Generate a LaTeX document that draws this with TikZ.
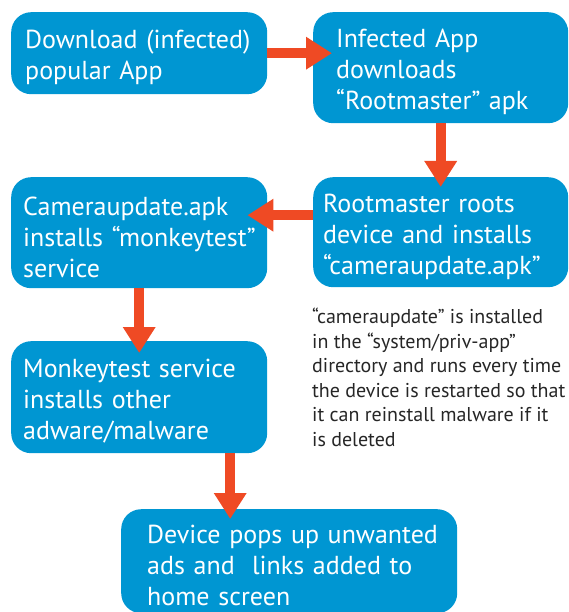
\documentclass[tikz,border=0pt]{standalone}
\usepackage{fontspec}
\setmainfont{PT Sans}
\usetikzlibrary{calc}
\usetikzlibrary{arrows.meta}

\definecolor{boxblue}{RGB}{0,150,210}
\definecolor{arrowred}{RGB}{239,74,36}
\newcommand{\oneline}[1]{\mbox{#1}}

\begin{document}
\begin{tikzpicture}[x=1pt,y=-1pt]
\tikzset{stepbox/.style={fill=boxblue,text=white,rounded corners=20pt,anchor=north west,align=left,inner ysep=0pt,font=\fontsize{26}{31}\selectfont,execute at begin node={\rule{0pt}{27pt}}}}
\tikzset{notetext/.style={anchor=north west,align=left,inner sep=0pt,text=black!85,font=\fontsize{20}{24.5}\selectfont}}
\tikzset{flow/.style={draw=arrowred,line width=10pt,-{Triangle[width=31pt,length=26pt]}}}
\useasboundingbox (0,0) rectangle (569,612);
\clip (0,0) rectangle (569,612);

\node[stepbox,minimum width=256pt,minimum height=82pt,text width=228pt,inner xsep=14pt] (dl) at (11,12) {\oneline{Download (infected)}\\\oneline{popular App}};
\node[stepbox,minimum width=255pt,minimum height=111pt,text width=209pt,inner xsep=23pt] (inf) at (313,12) {\oneline{Infected App}\\downloads\\\oneline{“Rootmaster” apk}};
\node[stepbox,minimum width=255pt,minimum height=110pt,text width=235pt,inner xsep=10pt] (root) at (313,177) {\oneline{Rootmaster roots}\\\oneline{device and installs}\\“cameraupdate.apk”};
\node[stepbox,minimum width=256pt,minimum height=111pt,text width=232pt,inner xsep=12pt] (cam) at (11,177) {Cameraupdate.apk\\\oneline{installs “monkeytest”}\\service};
\node[stepbox,minimum width=256pt,minimum height=112pt,text width=232pt,inner xsep=12pt] (mon) at (11,341) {\oneline{Monkeytest service}\\\oneline{installs other}\\adware/malware};
\node[stepbox,minimum width=336pt,minimum height=104pt,text width=284pt,inner xsep=26pt] (dev) at (121,509) {\oneline{Device pops up unwanted}\\\oneline{ads and~ links added to}\\\oneline{home screen}};

\node[notetext] (note) at (312,308) {“cameraupdate” is installed\\in the “system/priv-app”\\directory and runs every time\\the device is restarted so that\\it can reinstall malware if it\\is deleted};

% arrows between the steps
\coordinate (a3) at ([yshift=17pt]root.west);
\coordinate (a5) at ([xshift=91pt]mon.south);
\draw[flow,shorten >=-19pt] (dl.east) -- (inf.west |- dl.east);
\draw[flow,shorten >=-10pt] (inf.south) -- (root.north);
\draw[flow,shorten >=-20pt] (a3) -- (a3 -| cam.east);
\draw[flow,shorten >=-12pt] (cam.south) -- (mon.north);
\draw[flow,shorten >=-10pt] (a5) -- (a5 |- dev.north);
\end{tikzpicture}
\end{document}
